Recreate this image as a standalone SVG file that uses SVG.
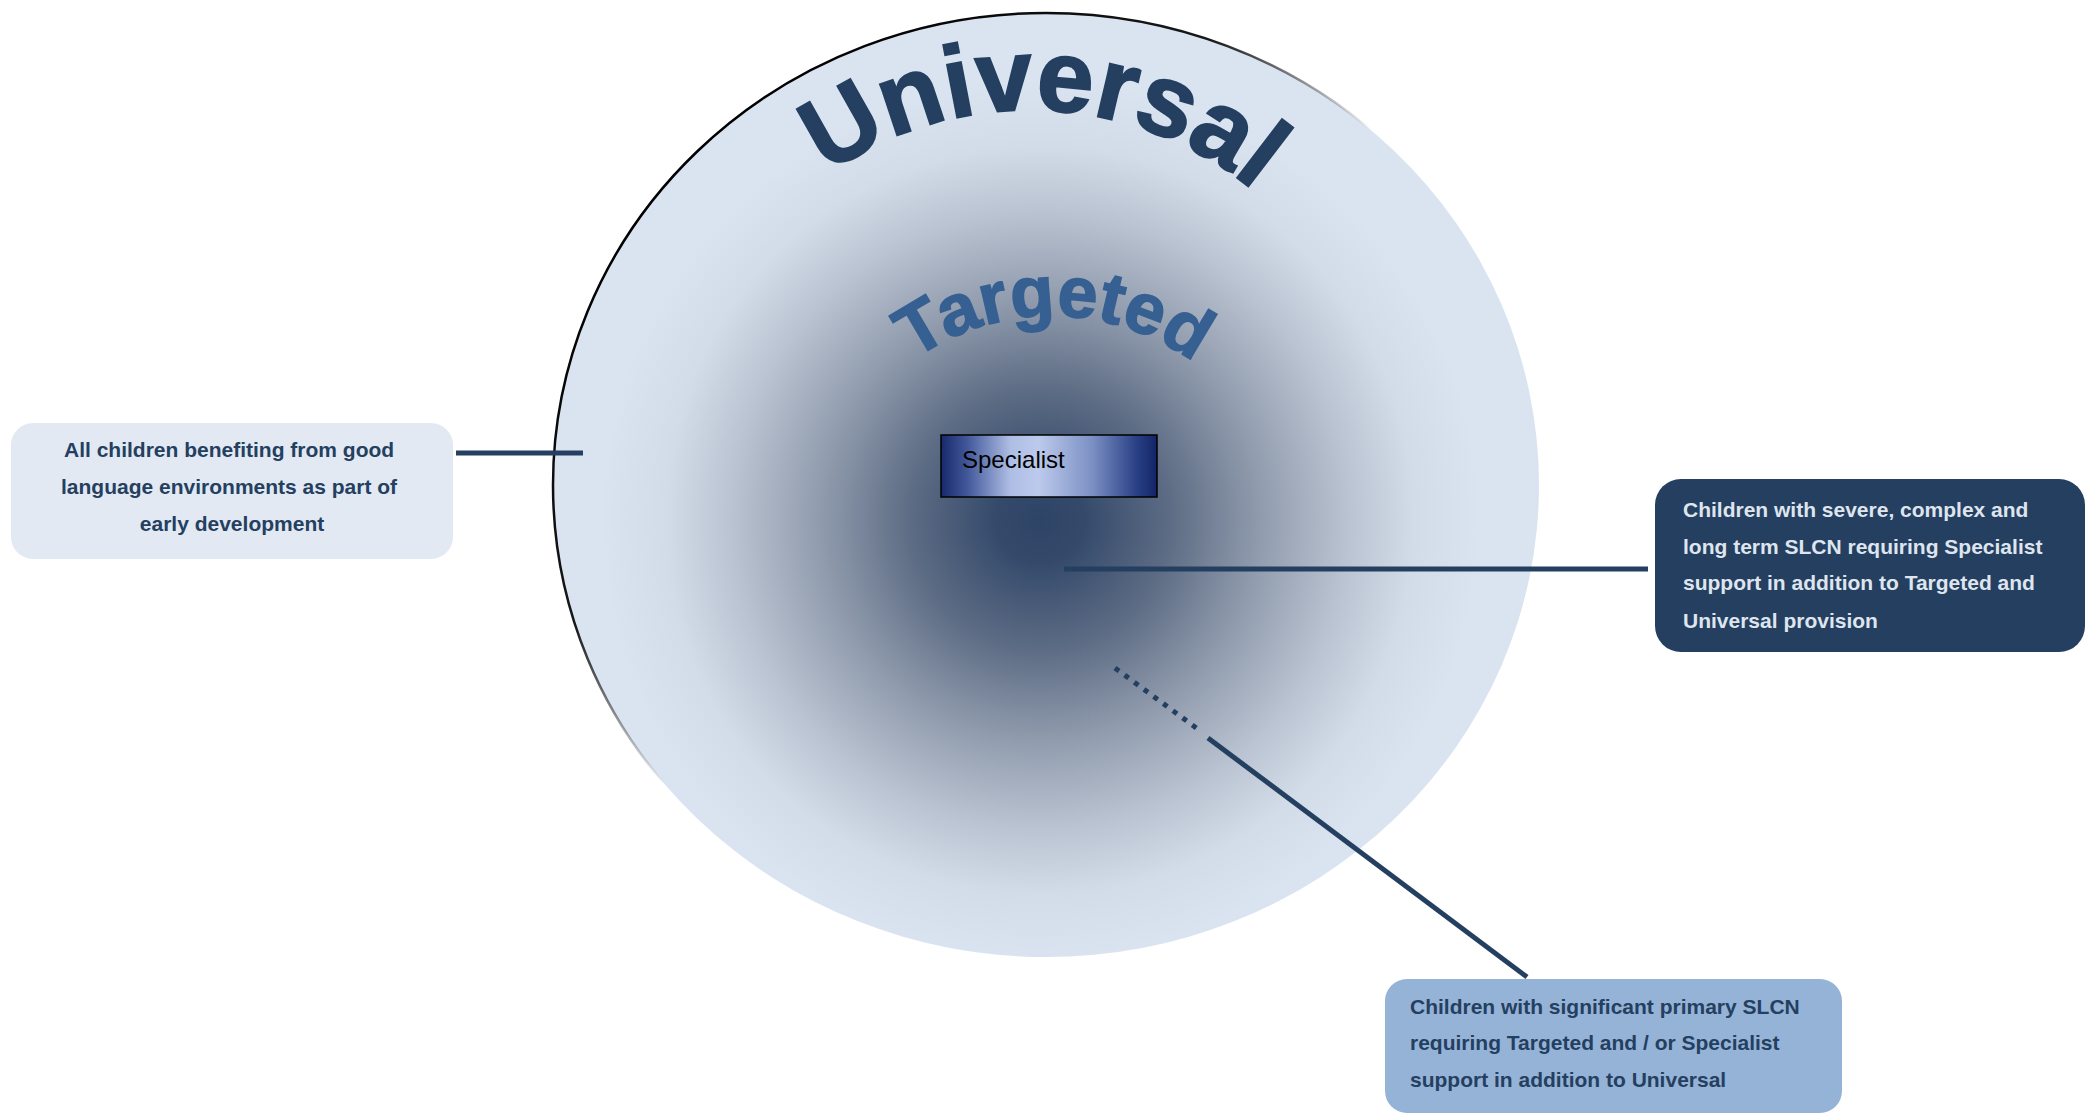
<svg xmlns="http://www.w3.org/2000/svg" width="2085" height="1114" viewBox="0 0 2085 1114">
  <defs>
    <radialGradient id="gCircle" gradientUnits="userSpaceOnUse" cx="1040" cy="520" r="440">
      <stop offset="0" stop-color="#2e4466"/>
      <stop offset="0.1" stop-color="#354a6b"/>
      <stop offset="0.3" stop-color="#5e6d85"/>
      <stop offset="0.5" stop-color="#909bad"/>
      <stop offset="0.7" stop-color="#bac3d1"/>
      <stop offset="0.85" stop-color="#d2dbe8"/>
      <stop offset="1" stop-color="#dae4f1"/>
    </radialGradient>
    <linearGradient id="gEdge" gradientUnits="userSpaceOnUse" x1="700" y1="150" x2="1300" y2="800">
      <stop offset="0" stop-color="#000" stop-opacity="1"/>
      <stop offset="0.3" stop-color="#000" stop-opacity="0.9"/>
      <stop offset="0.5" stop-color="#000" stop-opacity="0"/>
      <stop offset="1" stop-color="#000" stop-opacity="0"/>
    </linearGradient>
    <linearGradient id="gSpec" x1="0" y1="0" x2="1" y2="0">
      <stop offset="0" stop-color="#17296a"/>
      <stop offset="0.12" stop-color="#41579a"/>
      <stop offset="0.32" stop-color="#aebde4"/>
      <stop offset="0.45" stop-color="#bccaec"/>
      <stop offset="0.7" stop-color="#7c90c4"/>
      <stop offset="0.9" stop-color="#2b4286"/>
      <stop offset="1" stop-color="#122467"/>
    </linearGradient>
    <path id="arcUniversal" d="M701.1,340.3 A350,350 0 0 1 1358.9,340.3"/>
    <path id="arcTargeted" d="M826.5,473.9 A240,240 0 0 1 1277.5,473.9"/>
    <style>
      .conn { stroke: #243f60; stroke-width: 5; fill: none; }
      .lbl { font-family: "Liberation Sans", Arial, sans-serif; font-weight: bold; font-size: 21px; }
      .arch { font-family: "Liberation Sans", Arial, sans-serif; font-weight: bold; }
    </style>
  </defs>

  <g id="circle">
    <ellipse cx="1046" cy="485" rx="493" ry="472" fill="url(#gCircle)"/>
    <ellipse cx="1046" cy="485" rx="493" ry="472" fill="none" stroke="url(#gEdge)" stroke-width="2.5"/>
    <text class="arch" font-size="102" fill="#243f60" stroke="#243f60" stroke-width="2" letter-spacing="0"><textPath href="#arcUniversal" startOffset="211">Universal</textPath></text>
    <text class="arch" font-size="72" fill="#366092" stroke="#366092" stroke-width="1.5" letter-spacing="0"><textPath href="#arcTargeted" startOffset="146">Targeted</textPath></text>
  </g>

  <g id="specialist">
    <rect x="941" y="435" width="216" height="62" fill="url(#gSpec)" stroke="#000" stroke-width="1.5"/>
    <text x="962" y="468" font-family="Liberation Sans, Arial, sans-serif" font-size="24" fill="#000">Specialist</text>
  </g>

  <g id="connectors">
    <line class="conn" x1="456" y1="453" x2="583" y2="453"/>
    <line class="conn" x1="1064" y1="569" x2="1648" y2="569"/>
    <line class="conn" x1="1115" y1="668" x2="1199" y2="730" stroke-dasharray="5 7"/>
    <line class="conn" x1="1208" y1="738" x2="1527" y2="977"/>
  </g>

  <g id="box-universal">
    <rect x="11" y="423" width="442" height="136" rx="22" fill="#e2e9f3"/>
    <text class="lbl" fill="#243f60" text-anchor="middle">
      <tspan x="232" y="457">All children benefiting from good</tspan>
      <tspan x="232" y="494">language environments as part of</tspan>
      <tspan x="232" y="531">early development</tspan>
    </text>
  </g>

  <g id="box-specialist">
    <rect x="1655" y="479" width="430" height="173" rx="26" fill="#243f60"/>
    <text class="lbl" fill="#dfe5ee">
      <tspan x="1683" y="517">Children with severe, complex and</tspan>
      <tspan x="1683" y="554">long term SLCN requiring Specialist</tspan>
      <tspan x="1683" y="590">support in addition to Targeted and</tspan>
      <tspan x="1683" y="628">Universal provision</tspan>
    </text>
  </g>

  <g id="box-targeted">
    <rect x="1385" y="979" width="457" height="134" rx="22" fill="#95b3d7"/>
    <text class="lbl" fill="#243f60">
      <tspan x="1410" y="1014">Children with significant primary SLCN</tspan>
      <tspan x="1410" y="1050">requiring Targeted and / or Specialist</tspan>
      <tspan x="1410" y="1087">support in addition to Universal</tspan>
    </text>
  </g>
</svg>
